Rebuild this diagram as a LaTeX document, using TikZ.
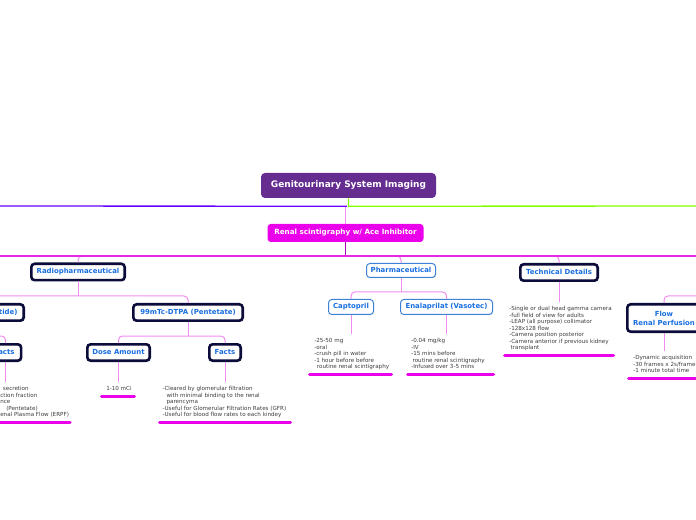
\documentclass[tikz,border=0pt]{standalone}
\usepackage{fontspec}
\setmainfont{DejaVu Sans}
\usetikzlibrary{shadows,calc}
\definecolor{rootpurple}{RGB}{102,45,145}
\definecolor{renalmag}{RGB}{235,0,235}
\definecolor{busmag}{RGB}{228,40,228}
\definecolor{darkmag}{RGB}{170,0,190}
\definecolor{lightpink}{RGB}{240,140,240}
\definecolor{ulmag}{RGB}{235,0,235}
\definecolor{navy}{RGB}{12,12,58}
\definecolor{nodeblue}{RGB}{24,110,224}
\definecolor{thinblue}{RGB}{60,130,215}
\definecolor{notegray}{RGB}{60,60,60}
\definecolor{bluec}{RGB}{100,0,255}
\definecolor{greenc}{RGB}{130,255,0}
\begin{document}
\begin{tikzpicture}[x=0.75pt,y=-0.75pt,
  rootnode/.style={fill=rootpurple, rounded corners=3pt, text=white,
    font=\fontsize{6.75}{8}\selectfont\bfseries, minimum width=131.25pt,
    minimum height=18.75pt, inner sep=0pt, text height=4.9pt, text depth=1.2pt},
  renalnode/.style={fill=renalmag, rounded corners=2.5pt, text=white,
    font=\fontsize{5.4}{6.5}\selectfont\bfseries, minimum width=117pt,
    minimum height=13.5pt, inner sep=0pt, text height=3.95pt, text depth=1pt},
  boxbase/.style={draw=navy, line width=1.95pt, fill=white, rounded corners=2.5pt,
    text=nodeblue, inner sep=0pt,
    drop shadow={shadow xshift=0.6pt, shadow yshift=-0.6pt, opacity=0.25}},
  bignode/.style={boxbase, font=\fontsize{5.2}{6.5}\selectfont\bfseries,
    text height=3.8pt, text depth=0.95pt, minimum height=12.3pt},
  flownode/.style={boxbase, font=\fontsize{5.2}{6.75}\selectfont\bfseries,
    align=center, minimum height=20.55pt},
  smallnode/.style={draw=thinblue, line width=0.75pt, fill=white, rounded corners=2.5pt,
    text=nodeblue, inner sep=0pt, font=\fontsize{5.2}{6.5}\selectfont\bfseries,
    text height=3.8pt, text depth=0.95pt,
    drop shadow={shadow xshift=0.5pt, shadow yshift=-0.5pt, opacity=0.2}},
  note/.style={font=\fontsize{4.2}{4.84}\selectfont, text=notegray, align=left,
    inner xsep=0pt, inner ysep=3.3pt, anchor=north west},
  conn/.style={draw=lightpink, line width=0.75pt},
  rc/.style={rounded corners=3pt},
  uline/.style={draw=ulmag, line width=2.25pt, line cap=round}]
\useasboundingbox (0,0) rectangle (696,520);

% nodes
\node[rootnode] (root) at (348.5,185.5) {Genitourinary System Imaging};
\node[renalnode] (renal) at (345.5,233) {Renal scintigraphy w/ Ace Inhibitor};
\node[bignode, minimum width=70.05pt] (radio) at (78,272) {Radiopharmaceutical};
\node[smallnode, minimum width=51.75pt, minimum height=10.5pt] (pharma) at (401,270.5) {Pharmaceutical};
\node[bignode, minimum width=58.05pt] (tech) at (559,272.5) {Technical Details};
\node[bignode, text width=72.75pt, align=right, inner xsep=4.65pt] (mag3) at (-31,312.5) {tide)};
\node[bignode, minimum width=82.05pt] (dtpa) at (188,312.5) {99mTc-DTPA (Pentetate)};
\node[bignode, text width=13.5pt, align=right, inner xsep=5pt] (factsL) at (5.5,352.5) {acts};
\node[bignode, minimum width=46.8pt] (dose) at (118.5,352.5) {Dose Amount};
\node[bignode, minimum width=23.55pt] (factsR) at (225,352.5) {Facts};
\node[smallnode, minimum width=33.75pt, minimum height=11.25pt] (capto) at (351,307) {Captopril};
\node[smallnode, minimum width=69pt, minimum height=11.25pt] (enal) at (446.5,307) {Enalaprilat (Vasotec)};
\node[flownode, minimum width=55.05pt] (flow) at (664,318) {Flow\\Renal Perfusion};

% notes
\node[note] (factsLnote) at (0,382) {\hspace*{2pt}secretion\\ction fraction\\nce\\\hspace*{4.5pt}(Pentetate)\\enal Plasma Flow (ERPF)};
\node[note] (dosenote) at (106,382) {1-10 mCi};
\node[note] (factsRnote) at (162.3,382) {-Cleared by glomerular filtration\\\hspace*{3pt}with minimal binding to the renal\\\hspace*{3pt}parencyma\\-Useful for Glomerular Filtration Rates (GFR)\\-Useful for blood flow rates to each kindey};
\node[note] (captonote) at (314,334) {-25-50 mg\\-oral\\-crush pill in water\\-1 hour before before\\\hspace*{2pt}routine renal scintigraphy};
\node[note] (enalnote) at (411,334) {-0.04 mg/kg\\-IV\\-15 mins before\\\hspace*{1pt}routine renal scintigraphy\\-Infused over 3-5 mins};
\node[note] (technote) at (509,302) {-Single or dual head gamma camera\\-full field of view for adults\\-LEAP (all purpose) collimator\\-128x128 flow\\-Camera position posterior\\-Camera anterior if previous kidney\\\hspace*{1pt}transplant};
\node[note] (flownote) at (633,350.7) {-Dynamic acquisition\\-30 frames x 2s/frame\\-1 minute total time};

% top-level connectors
\coordinate (leftfar) at (-10,206);
\coordinate (rightfar) at (710,206);
\coordinate (busL) at (-10,256);
\coordinate (busR) at (710,256);
\draw[lightpink, line width=0.75pt] (renal.north) -- (renal.north |- leftfar);
\draw[bluec, line width=1pt] ($(root.south)+(-1.5,8)$) -- (leftfar);
\draw[greenc, line width=1pt] (root.south) -- ++(0,8) -- (rightfar);
\draw[darkmag, line width=1.1pt] (renal.south) -- (renal.south |- busL);

% branch connectors from the bus
\draw[conn, rc] ($(radio.north |- busL)+(8,0)$) -| (radio.north);
\draw[conn, rc] ($(pharma.north |- busL)+(-8,0)$) -| (pharma.north);
\draw[conn, rc] ($(tech.north |- busL)+(-8,0)$) -| (tech.north);
\draw[busmag, line width=0.9pt] (busL) -- (busR);

% second level
\coordinate (bus2) at (0,296);
\draw[conn] (radio.south) -- (radio.south |- bus2);
\draw[conn, rc] (mag3.north) |- (dtpa.north |- bus2) -- (dtpa.north);
\coordinate (bus3) at (0,336);
\draw[conn] (dtpa.south) -- (dtpa.south |- bus3);
\draw[conn, rc] (dose.north) |- (factsR.north |- bus3) -- (factsR.north);
\draw[conn] (mag3.south) -- (mag3.south |- bus3);
\draw[conn, rc] (mag3.south |- bus3) -| (factsL.north);
\coordinate (bus4) at (0,292);
\draw[conn] (pharma.south) -- (pharma.south |- bus4);
\draw[conn, rc] (capto.north) |- (enal.north |- bus4) -- (enal.north);
\coordinate (flowin) at (710,296);
\draw[conn, rc] (flowin) -| (flow.north);

% node-to-note connectors
\draw[conn] (factsL.south) -- (factsL.south |- factsLnote.north);
\draw[conn] (dose.south) -- (dose.south |- dosenote.north);
\draw[conn] (factsR.south) -- (factsR.south |- factsRnote.north);
\draw[conn] (capto.south) -- (capto.south |- captonote.north);
\draw[conn] (enal.south) -- (enal.south |- enalnote.north);
\draw[conn] (tech.south) -- (tech.south |- technote.north);
\draw[conn] (flow.south) -- (flow.south |- flownote.north);

% underlines
\draw[uline] (-10,422) -- (70.2,422);
\draw[uline] (101.5,396) -- (134.5,396);
\draw[uline] (159.5,422) -- (290.5,422);
\draw[uline] (309.5,374) -- (391.5,374);
\draw[uline] (407.5,374) -- (493.5,374);
\draw[uline] (504.5,355) -- (613.5,355);
\draw[uline] (628.5,378) -- (710,378);
\end{tikzpicture}
\end{document}
